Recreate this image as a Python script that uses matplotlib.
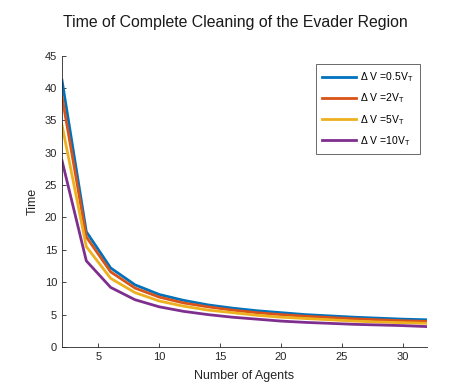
import numpy as np
import matplotlib
matplotlib.use('Agg')
import matplotlib.pyplot as plt

# Number of agents and cleaning time per speed ratio
agents = [2, 4, 6, 8, 10, 12, 14, 16, 18, 20, 22, 24, 26, 28, 30, 32]
time_05 = [41.2, 17.8, 12.2, 9.6, 8.1, 7.2, 6.5, 6.0, 5.6, 5.3, 5.0, 4.8, 4.6, 4.45, 4.3, 4.2]
time_2 = [38.7, 17.0, 11.6, 9.1, 7.7, 6.8, 6.2, 5.7, 5.3, 5.0, 4.75, 4.55, 4.35, 4.2, 4.05, 3.95]
time_5 = [34.3, 15.5, 10.6, 8.4, 7.1, 6.3, 5.7, 5.3, 4.9, 4.6, 4.4, 4.2, 4.0, 3.85, 3.75, 3.65]
time_10 = [28.8, 13.3, 9.2, 7.3, 6.2, 5.5, 5.0, 4.6, 4.3, 4.0, 3.8, 3.65, 3.5, 3.4, 3.3, 3.15]
labels = [r'$\Delta$ V =0.5V$_\mathregular{T}$', r'$\Delta$ V =2V$_\mathregular{T}$',
          r'$\Delta$ V =5V$_\mathregular{T}$', r'$\Delta$ V =10V$_\mathregular{T}$']

colors = ['#0072BD', '#D95319', '#EDB120', '#7E2F8E']
plt.rcParams['font.family'] = ['Liberation Sans', 'DejaVu Sans']
plt.rcParams['mathtext.fontset'] = 'custom'
plt.rcParams['mathtext.rm'] = 'Liberation Sans'
plt.rcParams['mathtext.it'] = 'Liberation Sans'

fig = plt.figure(figsize=(4.71, 3.88), dpi=100)
ax = fig.add_axes([0.1316, 0.1057, 0.775, 0.751])

for ys, c, lab in zip([time_05, time_2, time_5, time_10], colors, labels):
    ax.plot(agents, ys, color=c, linewidth=2, label=lab)

ax.set_xlim(2, 32)
ax.set_ylim(0, 45)
ax.set_xticks([5, 10, 15, 20, 25, 30])
ax.set_yticks(np.arange(0, 46, 5))
ax.spines['top'].set_visible(False)
ax.spines['right'].set_visible(False)
for s in ['left', 'bottom']:
    ax.spines[s].set_color('#262626')
    ax.spines[s].set_linewidth(0.6)
ax.tick_params(direction='in', length=3, width=0.6, labelsize=8, colors='#262626')

ax.set_xlabel('Number of Agents', fontsize=9, color='#262626', labelpad=6)
ax.set_ylabel('Time', fontsize=9, color='#262626')
fig.text(0.5, 0.943, 'Time of Complete Cleaning of the Evader Region',
         fontsize=11.4, ha='center', va='center', color='#1a1a1a')

leg = ax.legend(loc='upper right', bbox_to_anchor=(0.994, 0.988), fontsize=7.5,
                fancybox=False, edgecolor='#262626', handlelength=3.2,
                borderpad=0.6, labelspacing=0.7, handletextpad=0.4)
leg.get_frame().set_linewidth(0.6)

fig.savefig('out.png', dpi=100)
